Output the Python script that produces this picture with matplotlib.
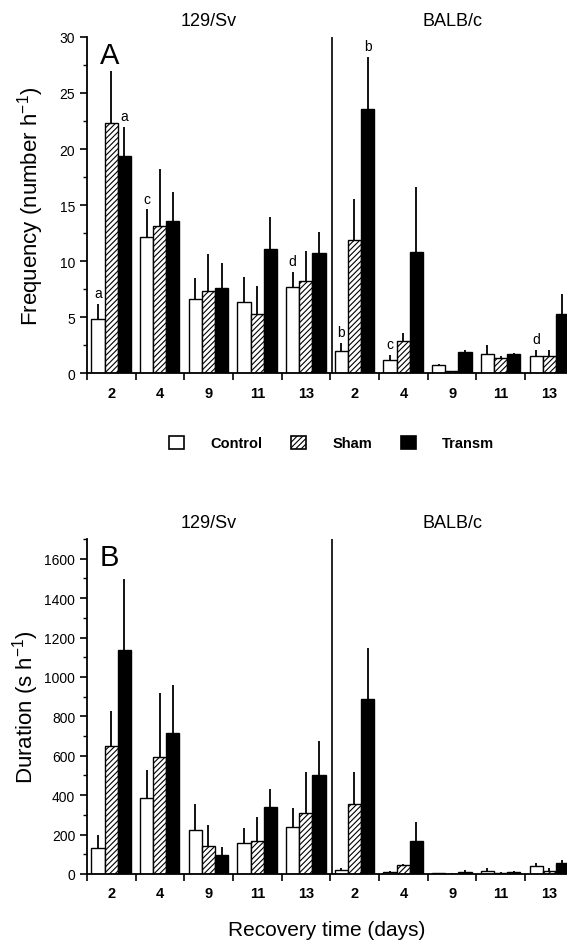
import numpy as np
import matplotlib.pyplot as plt
from matplotlib.patches import Patch
from matplotlib.ticker import MultipleLocator

plt.rcParams['font.family'] = ['Liberation Sans', 'DejaVu Sans']
plt.rcParams['hatch.linewidth'] = 0.8

days = ['2', '4', '9', '11', '13', '2', '4', '9', '11', '13']
groups = ['Control', 'Sham', 'Transm']

# panel A: frequency (number h-1), first 5 = 129/Sv, last 5 = BALB/c
freq_control = [4.8, 12.1, 6.6, 6.3, 7.7, 2.0, 1.2, 0.7, 1.7, 1.5]
freq_control_err = [6.2, 14.6, 8.5, 8.6, 9.0, 2.7, 1.6, 0.8, 2.5, 2.1]
freq_sham = [22.3, 13.1, 7.3, 5.3, 8.2, 11.9, 2.9, 0.2, 1.3, 1.5]
freq_sham_err = [27.0, 18.2, 10.6, 7.8, 10.9, 15.5, 3.6, 0.2, 1.5, 2.1]
freq_transm = [19.4, 13.6, 7.6, 11.1, 10.7, 23.6, 10.8, 1.9, 1.7, 5.3]
freq_transm_err = [22.0, 16.2, 9.8, 13.9, 12.6, 28.2, 16.6, 2.1, 1.8, 7.1]
freq_letters = [('a', 0, 0), ('a', 0, 2), ('c', 1, 0), ('d', 4, 0),
                ('b', 5, 0), ('b', 5, 2), ('c', 6, 0), ('d', 9, 0)]

# panel B: duration (s h-1)
dur_control = [130, 384, 225, 157, 240, 20, 10, 3, 15, 38]
dur_control_err = [197, 527, 355, 231, 333, 28, 14, 5, 28, 55]
dur_sham = [650, 595, 144, 169, 307, 355, 45, 2, 5, 15]
dur_sham_err = [828, 917, 248, 291, 520, 515, 53, 3, 8, 28]
dur_transm = [1137, 715, 98, 338, 503, 887, 169, 12, 12, 55]
dur_transm_err = [1495, 960, 137, 431, 676, 1149, 262, 18, 15, 72]

fig = plt.figure(figsize=(5.67, 9.45), dpi=100)
axA = fig.add_axes([0.1534, 0.6042, 0.8466, 0.3556])
axB = fig.add_axes([0.1534, 0.0741, 0.8466, 0.3545])

bw = 0.27
off = 0.09
styles = [dict(facecolor='white', hatch=None),
          dict(facecolor='white', hatch='//////'),
          dict(facecolor='black', hatch=None)]


def draw(ax, vals, errs, ymax, letters=None):
    x = np.arange(len(days))
    for k in range(3):
        pos = x + off + bw * k
        ax.bar(pos, vals[k], bw, align='edge', edgecolor='black',
               linewidth=1.0, **styles[k])
        ax.vlines(pos + bw / 2, vals[k], errs[k], color='black', lw=1.3)
    if letters:
        for t, i, k in letters:
            ax.text(i + off + bw * k + bw / 2, errs[k][i] + 0.35, t,
                    ha='center', va='bottom', fontsize=10)
    ax.axvline(5.04, color='black', lw=1.2)
    ax.set_xlim(0, 9.86)
    ax.set_ylim(0, ymax)
    ax.spines['top'].set_visible(False)
    ax.spines['right'].set_visible(False)
    ax.set_xticks(np.arange(0, 10))
    ax.set_xticklabels([])
    ax.set_xticks(np.arange(10) + 0.5, minor=True)
    ax.set_xticklabels(days, minor=True, fontsize=10.5, fontweight='bold')
    ax.tick_params(axis='x', which='major', length=5, width=1.2, direction='out')
    ax.tick_params(axis='x', which='minor', length=0, pad=9)
    ax.tick_params(axis='y', which='major', length=5, width=1.2, labelsize=10)
    ax.tick_params(axis='y', which='minor', length=3, width=1)
    for s in ['left', 'bottom']:
        ax.spines[s].set_linewidth(1.3)
    ax.text(2.5, 1.025, '129/Sv', transform=ax.get_xaxis_transform(),
            ha='center', va='bottom', fontsize=13)
    ax.text(7.5, 1.025, 'BALB/c', transform=ax.get_xaxis_transform(),
            ha='center', va='bottom', fontsize=13)


draw(axA, [freq_control, freq_sham, freq_transm],
     [freq_control_err, freq_sham_err, freq_transm_err], 30, freq_letters)
axA.yaxis.set_major_locator(MultipleLocator(5))
axA.yaxis.set_minor_locator(MultipleLocator(2.5))
axA.set_ylabel('Frequency (number h$^{\\mathregular{-1}}$)', fontsize=16, labelpad=10)
axA.text(0.27, 29.6, 'A', fontsize=21, va='top', ha='left')

draw(axB, [dur_control, dur_sham, dur_transm],
     [dur_control_err, dur_sham_err, dur_transm_err], 1700)
axB.yaxis.set_major_locator(MultipleLocator(200))
axB.yaxis.set_minor_locator(MultipleLocator(100))
axB.set_ylabel('Duration (s h$^{\\mathregular{-1}}$)', fontsize=16, labelpad=2)
axB.set_xlabel('Recovery time (days)', fontsize=15, labelpad=14)
axB.text(0.27, 1680, 'B', fontsize=21, va='top', ha='left')

handles = [Patch(edgecolor='black', linewidth=1.2, **styles[k]) for k in range(3)]
fig.legend(handles, groups, loc='center', bbox_to_anchor=(0.585, 0.530), ncol=3,
           frameon=False, prop={'weight': 'bold', 'size': 10.5},
           handlelength=1.0, handleheight=1.0, columnspacing=2.0, handletextpad=1.8)

fig.savefig('out.png', dpi=100)
